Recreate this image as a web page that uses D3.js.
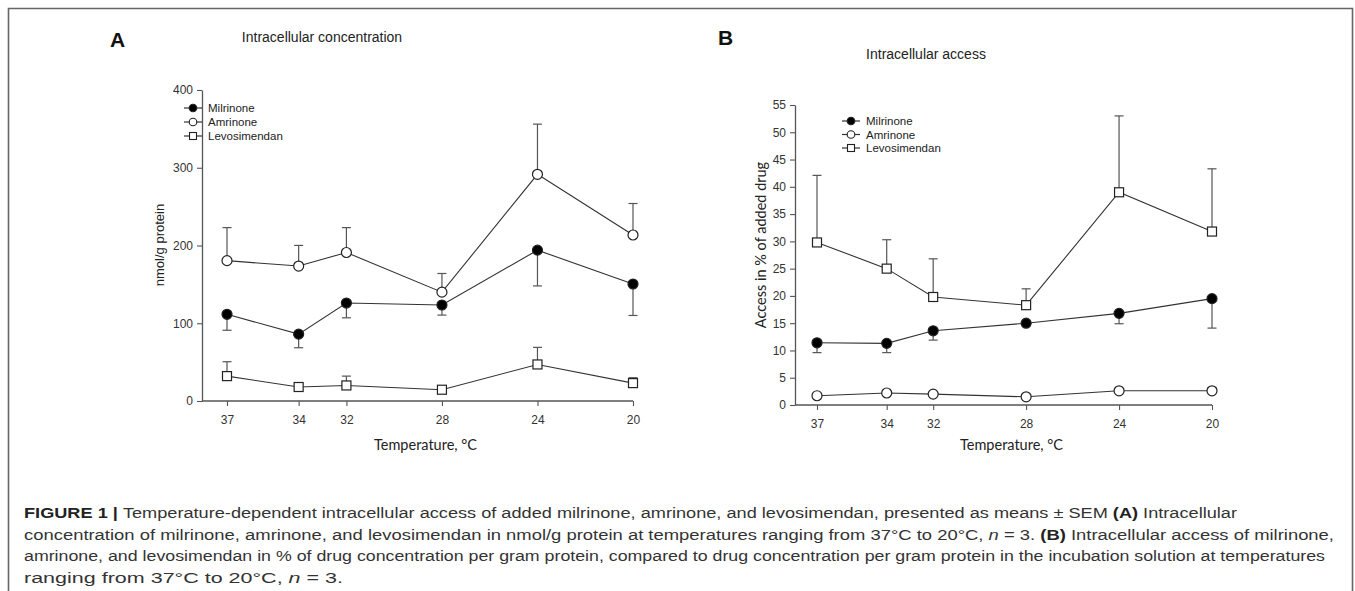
<!DOCTYPE html>
<html><head><meta charset="utf-8">
<script src="https://cdn.jsdelivr.net/npm/d3@7"></script>
<style>
html,body{margin:0;padding:0;background:#fff;}
svg{display:block;}
</style></head>
<body>
<svg id="chart" width="1355" height="591"></svg>
<script>
// ---------- DATA ----------
const temperatures = [37, 34, 32, 28, 24, 20];
const seriesNames = ["Milrinone", "Amrinone", "Levosimendan"];

// Panel A: intracellular concentration (nmol/g protein)
const concMilrinone = [111.5, 86, 126, 123.5, 194, 150.5];
const concMilrinoneSem = [20.5, 17.5, 19, 13, 46, 40.5];
const concAmrinone = [180.5, 173.6, 191, 140, 291.6, 213.5];
const concAmrinoneSem = [42.5, 26.5, 32, 24, 64.5, 40.5];
const concLevosimendan = [32, 18, 20, 14.5, 47, 23];
const concLevosimendanSem = [18.5, 4, 12, 0, 22, 7];
const concTicks = [0, 100, 200, 300, 400];

// Panel B: intracellular access (% of added drug)
const accMilrinone = [11.4, 11.3, 13.6, 15.0, 16.8, 19.5];
const accMilrinoneSem = [1.8, 1.7, 1.7, 0.5, 1.9, 5.4];
const accAmrinone = [1.7, 2.2, 2.0, 1.5, 2.6, 2.6];
const accAmrinoneSem = [0, 0, 0, 0, 0, 0.6];
const accLevosimendan = [29.8, 25.0, 19.8, 18.3, 39.0, 31.8];
const accLevosimendanSem = [12.3, 5.3, 7.0, 3.0, 14.0, 11.5];
const accTicks = [0, 5, 10, 15, 20, 25, 30, 35, 40, 45, 50, 55];

const captionLines = [
  [["b","FIGURE 1 | "],["n","Temperature-dependent intracellular access of added milrinone, amrinone, and levosimendan, presented as means ± SEM "],["b","(A)"],["n"," Intracellular"]],
  [["n","concentration of milrinone, amrinone, and levosimendan in nmol/g protein at temperatures ranging from 37°C to 20°C, "],["i","n"],["n"," = 3. "],["b","(B)"],["n"," Intracellular access of milrinone,"]],
  [["n","amrinone, and levosimendan in % of drug concentration per gram protein, compared to drug concentration per gram protein in the incubation solution at temperatures"]],
  [["n","ranging from 37°C to 20°C, "],["i","n"],["n"," = 3."]]
];
const captionLineEnds = [1237, 1334, 1325, 343];

// ---------- DRAW ----------
const svg = d3.select("#chart");
const axisColor = "#555";
const tickFont = "'Liberation Sans Narrow','Liberation Sans',Arial,sans-serif";

// frame
svg.append("path").attr("d","M8.5,600 V8.5 H1352.5 V600")
  .attr("fill","none").attr("stroke","#666").attr("stroke-width",1.6);

const markerShape = {Milrinone:"filledCircle", Amrinone:"openCircle", Levosimendan:"openSquare"};

function drawMarker(g, shape, x, y){
  if(shape === "openSquare"){
    g.append("rect").attr("x",x-4.5).attr("y",y-4.5).attr("width",9).attr("height",9)
      .attr("fill","#fff").attr("stroke","#222").attr("stroke-width",1.2);
  } else {
    g.append("circle").attr("cx",x).attr("cy",y).attr("r",5)
      .attr("fill", shape==="filledCircle" ? "#000" : "#fff")
      .attr("stroke","#222").attr("stroke-width",1.2);
  }
}

function drawPanel(cfg){
  const g = svg.append("g");
  const x = d3.scaleLinear().domain([37,20]).range(cfg.xRange);
  const y = d3.scaleLinear().domain([0, cfg.yMax]).range(cfg.yRange);

  // y axis
  const ya = g.append("g").attr("transform",`translate(${cfg.axisX},0)`)
    .call(d3.axisLeft(y).tickValues(cfg.yTicks).tickSize(5).tickPadding(4).tickSizeOuter(0));
  ya.select(".domain").attr("stroke",axisColor).attr("stroke-width",1.3);
  ya.selectAll(".tick line").attr("stroke",axisColor).attr("stroke-width",1.1);
  ya.selectAll(".tick text").attr("font-family",tickFont).attr("font-size",12).attr("fill","#333");

  // x axis
  const xa = g.append("g").attr("transform",`translate(0,${cfg.yRange[0]})`)
    .call(d3.axisBottom(x).tickValues(temperatures).tickSize(5).tickPadding(9).tickSizeOuter(0).tickFormat(d3.format("d")));
  xa.select(".domain").attr("d",`M${cfg.axisX},0H${cfg.xRange[1]}`).attr("stroke",axisColor).attr("stroke-width",1.3);
  xa.selectAll(".tick line").attr("stroke",axisColor).attr("stroke-width",1.1);
  xa.selectAll(".tick text").attr("font-family",tickFont).attr("font-size",12).attr("fill","#333");

  const line = d3.line().x((d,i)=>x(temperatures[i])).y(d=>y(d));

  cfg.series.forEach(s=>{
    s.values.forEach((v,i)=>{
      const e = s.sem[i];
      if(!e) return;
      const y2 = y(v + s.dir*e);
      const xc = x(temperatures[i]);
      g.append("line").attr("x1",xc).attr("x2",xc).attr("y1",y(v)).attr("y2",y2)
        .attr("stroke","#555").attr("stroke-width",1.2);
      g.append("line").attr("x1",xc-4.5).attr("x2",xc+4.5).attr("y1",y2).attr("y2",y2)
        .attr("stroke","#555").attr("stroke-width",1.2);
    });
  });
  cfg.series.forEach(s=>{
    g.append("path").datum(s.values).attr("d",line)
      .attr("fill","none").attr("stroke","#333").attr("stroke-width",1.1);
  });
  cfg.series.forEach(s=>{
    s.values.forEach((v,i)=> drawMarker(g, markerShape[s.name], x(temperatures[i]), y(v)));
  });

  // legend
  seriesNames.forEach((name,i)=>{
    const ly = cfg.legendYs[i];
    g.append("line").attr("x1",cfg.legendX).attr("x2",cfg.legendX+18).attr("y1",ly).attr("y2",ly)
      .attr("stroke","#333").attr("stroke-width",1.2);
    if(markerShape[name]==="openSquare"){
      g.append("rect").attr("x",cfg.legendX+5.5).attr("y",ly-3.5).attr("width",7).attr("height",7)
        .attr("fill","#fff").attr("stroke","#222").attr("stroke-width",1.1);
    } else {
      g.append("circle").attr("cx",cfg.legendX+9).attr("cy",ly).attr("r",3.8)
        .attr("fill",markerShape[name]==="filledCircle"?"#000":"#fff").attr("stroke","#222").attr("stroke-width",1.1);
    }
    g.append("text").attr("x",cfg.legendX+24).attr("y",ly+4).text(name)
      .attr("font-family",tickFont).attr("font-size",11.5).attr("fill","#222");
  });

  // titles & labels
  svg.append("text").attr("x",cfg.letterX).attr("y",cfg.letterY).text(cfg.letter)
    .attr("font-family","'Liberation Sans',Arial,sans-serif").attr("font-weight","bold").attr("font-size",21).attr("fill","#111");
  svg.append("text").attr("x",cfg.titleX).attr("y",cfg.titleY).attr("text-anchor","middle").text(cfg.title)
    .attr("font-family",tickFont).attr("font-size",14).attr("fill","#222");
  svg.append("text").attr("x",(cfg.axisX+cfg.xRange[1])/2+8).attr("y",450).attr("text-anchor","middle")
    .text("Temperature,  °C").attr("font-family","Lato, 'Open Sans', sans-serif").attr("font-size",14.5).attr("fill","#222");
  svg.append("text").attr("transform",`translate(${cfg.yLabelX},${cfg.yLabelY}) rotate(-90)`)
    .attr("text-anchor","middle").text(cfg.yLabel)
    .attr("font-family",cfg.yLabelFont).attr("font-size",cfg.yLabelSize).attr("fill","#222");
}

drawPanel({
  letter:"A", letterX:110, letterY:47,
  title:"Intracellular concentration", titleX:322, titleY:42,
  axisX:202, xRange:[227,633], yRange:[401,90], yMax:400, yTicks:concTicks,
  yLabel:"nmol/g protein", yLabelX:164, yLabelY:245, yLabelFont:"'Liberation Sans',Arial,sans-serif", yLabelSize:13,
  legendX:184, legendYs:[108,122,136],
  series:[
    {name:"Milrinone", values:concMilrinone, sem:concMilrinoneSem, dir:-1},
    {name:"Amrinone", values:concAmrinone, sem:concAmrinoneSem, dir:1},
    {name:"Levosimendan", values:concLevosimendan, sem:concLevosimendanSem, dir:1}
  ]
});

drawPanel({
  letter:"B", letterX:718, letterY:45,
  title:"Intracellular access", titleX:926, titleY:59,
  axisX:795, xRange:[817,1212], yRange:[405,105], yMax:55, yTicks:accTicks,
  yLabel:"Access in % of added drug", yLabelX:766, yLabelY:245, yLabelFont:"Lato, 'Open Sans', sans-serif", yLabelSize:14.5,
  legendX:842, legendYs:[121,134.5,148],
  series:[
    {name:"Levosimendan", values:accLevosimendan, sem:accLevosimendanSem, dir:1},
    {name:"Milrinone", values:accMilrinone, sem:accMilrinoneSem, dir:-1},
    {name:"Amrinone", values:accAmrinone, sem:accAmrinoneSem, dir:1}
  ]
});

// caption
const capYs = [518, 540, 561, 583];
captionLines.forEach((parts,li)=>{
  const t = svg.append("text").attr("x",24).attr("y",capYs[li])
    .attr("font-family","'Liberation Sans',Arial,sans-serif").attr("font-size",15.5).attr("fill","#333");
  parts.forEach(([st,txt])=>{
    const ts = t.append("tspan").text(txt);
    if(st==="b") ts.attr("font-weight","bold").attr("fill","#222");
    if(st==="i") ts.attr("font-style","italic");
  });
  t.attr("textLength", captionLineEnds[li]-24).attr("lengthAdjust","spacingAndGlyphs");
});
</script>
</body></html>
